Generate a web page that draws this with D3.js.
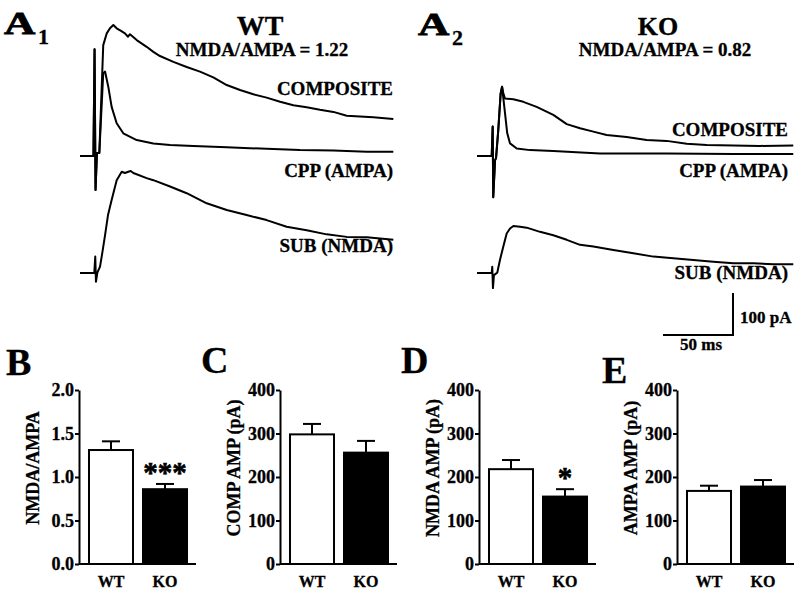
<!DOCTYPE html>
<html><head><meta charset="utf-8">
<script src="https://cdn.jsdelivr.net/npm/d3@7"></script>
<style>
body{margin:0;background:#fff}
svg{display:block}
text{font-family:"Liberation Serif","Times New Roman",serif;font-weight:bold;fill:#000;stroke:#000;stroke-width:0.3px}
</style>
</head><body>
<svg id="c" width="800" height="590"></svg>
<script>
// ---------- DATA ----------
const groups = ["WT", "KO"];
const ratioMean = [1.31, 0.86], ratioSem = [0.10, 0.06], ratioSig = ["", "***"];
const compMean = [298, 256],   compSem = [24, 27],   compSig = ["", ""];
const nmdaMean = [218, 155],   nmdaSem = [21, 17],   nmdaSig = ["", "*"];
const ampaMean = [168, 178],   ampaSem = [12, 15],   ampaSig = ["", ""];
const ratioTicks = [0, 0.5, 1.0, 1.5, 2.0];
const ampTicks = [0, 100, 200, 300, 400];

// traces: [time ms, current pA]
const wtComposite = [[0,0],[9.6,0],[10.4,254],[11.1,-81],[12.1,7],[13.8,7],[16.6,264],[19.1,292],[21.4,304],[23.8,312],[26.2,304],[29.3,298],[32.1,292],[34.3,284],[35.7,290],[40.5,276],[47.6,260],[52.4,248],[57.1,238],[66.7,224],[76.2,212],[85.7,201],[95.2,187],[104.8,169],[114.3,157],[123.8,147],[133.3,139],[142.9,129],[152.4,121],[161.9,116],[171.4,110],[181,105],[190.5,96],[200,94],[209.5,92],[223.8,88]];
const wtAmpa = [[0,0],[9.6,0],[10.4,254],[11.1,-81],[12.1,7],[13.8,7],[16.6,197],[17.9,201],[20.2,165],[22.6,117],[26.2,78],[30.9,54],[40.5,38],[52.4,30],[64.3,26],[81,24],[104.8,21],[133.3,17],[157.1,14],[181,13],[204.8,10],[223.8,10]];
const wtNmda = [[0,0],[10.2,0],[10.9,39],[11.4,-21],[12.4,1],[14.3,15],[15.7,43],[17.9,90],[20,138],[22.6,174],[26.2,221],[29.8,241],[32.1,238],[34.5,241],[36.2,243],[38.1,238],[47.6,226],[52.4,221],[64.3,206],[76.2,190],[90.5,166],[104.8,150],[119,138],[133.3,126],[147.6,110],[161.9,102],[176.2,92],[190.5,86],[204.8,85],[223.8,79]];
const koComposite = [[0,0],[10.5,0],[11.2,70],[11.6,-98],[12.9,-10],[13.6,-5],[15.2,62],[16.9,149],[17.9,165],[18.8,149],[20,137],[25.9,135],[33.1,129],[42.6,117],[54.5,98],[64.1,76],[73.6,66],[83.1,58],[92.6,50],[106.9,45],[121.2,38],[135.5,36],[149.8,29],[164.1,26],[183.1,25],[202.1,24],[225.9,25]];
const koAmpa = [[0,0],[10.5,0],[11.2,70],[11.6,-98],[12.9,-10],[13.6,-5],[15.2,62],[16.9,149],[17.9,165],[20,102],[21.6,54],[23.6,30],[28.4,18],[37.9,14],[54.5,12],[87.9,6],[135.5,6],[183.1,5],[225.9,5]];
const koNmda = [[0,0],[10.5,0],[10.9,15],[11.4,-36],[12.1,-5],[14.5,1],[16.4,31],[18.8,63],[21.2,94],[23.6,106],[26,112],[30.7,110],[35.5,108],[45,98],[54.5,90],[64.1,79],[73.6,67],[83.1,63],[97.4,55],[111.7,47],[126,39],[140.2,35],[154.5,31],[168.8,27],[183.1,23],[197.4,23],[211.7,21],[225.9,21]];
const scaleBarMs = 50, scaleBarPA = 100;

// ---------- DRAW ----------
const svg = d3.select("#c");
const F = '"Liberation Serif","Times New Roman",serif';

function tracePanel(x0, traces) {
  const xs = d3.scaleLinear().domain([0, 50]).range([x0, x0 + 70]);
  traces.forEach(t => {
    const ys = d3.scaleLinear().domain([0, 100]).range([t.base, t.base - 42]);
    const line = d3.line().x(d => xs(d[0])).y(d => ys(d[1]));
    svg.append("path").attr("d", line(t.data)).attr("fill", "none")
      .attr("stroke", "#000").attr("stroke-width", 2).attr("stroke-linejoin", "round");
  });
  return xs;
}
tracePanel(80, [{data: wtComposite, base: 156}, {data: wtAmpa, base: 156}, {data: wtNmda, base: 273}]);
const xsKO = tracePanel(477, [{data: koComposite, base: 156}, {data: koAmpa, base: 156}, {data: koNmda, base: 273}]);

function txt(x, y, s, size, anchor) {
  return svg.append("text").attr("x", x).attr("y", y).attr("font-size", size)
    .attr("text-anchor", anchor || "start").text(s);
}
function letterA(x, y, sub) {
  svg.append("text").attr("transform", `translate(${x},${y}) scale(1.4,1)`)
    .attr("font-size", 31).style("stroke-width", "0.8px").text("A");
  txt(x + 34, y + 10, sub, 22);
}
letterA(4, 34, "1");
letterA(418, 35, "2");
txt(260, 35, "WT", 28, "middle");
txt(262, 56, "NMDA/AMPA = 1.22", 19, "middle");
txt(658, 35, "KO", 26, "middle");
txt(665, 56, "NMDA/AMPA = 0.82", 19, "middle");
txt(393, 95, "COMPOSITE", 19, "end");
txt(393, 177, "CPP (AMPA)", 19, "end");
txt(393, 252, "SUB (NMDA)", 19, "end");
txt(788, 136, "COMPOSITE", 19, "end");
txt(788, 177, "CPP (AMPA)", 19, "end");
txt(788, 279, "SUB (NMDA)", 19, "end");

// scale bar
const sbx = 733, sby = 335;
const sbW = xsKO(scaleBarMs) - xsKO(0);
const sbH = d3.scaleLinear().domain([0, 100]).range([0, 42])(scaleBarPA);
svg.append("path").attr("d", `M${sbx - sbW},${sby}H${sbx}V${sby - sbH}`)
  .attr("fill", "none").attr("stroke", "#000").attr("stroke-width", 2);
txt(740, 323, "100 pA", 17);
txt(701, 350, "50 ms", 17, "middle");

// bar panels
const panels = [
  {x: 79, letter: "B", lx: 6, ly: 375, mean: ratioMean, sem: ratioSem, sig: ratioSig, ticks: ratioTicks, fmt: d3.format(".1f"), label: "NMDA/AMPA"},
  {x: 280, letter: "C", lx: 201, ly: 373, mean: compMean, sem: compSem, sig: compSig, ticks: ampTicks, fmt: d3.format("d"), label: "COMP AMP (pA)"},
  {x: 479, letter: "D", lx: 401, ly: 373, mean: nmdaMean, sem: nmdaSem, sig: nmdaSig, ticks: ampTicks, fmt: d3.format("d"), label: "NMDA AMP (pA)"},
  {x: 677, letter: "E", lx: 602, ly: 383, mean: ampaMean, sem: ampaSem, sig: ampaSig, ticks: ampTicks, fmt: d3.format("d"), label: "AMPA AMP (pA)"}
];
panels.forEach(p => {
  const y = d3.scaleLinear().domain([0, p.ticks[p.ticks.length - 1]]).range([564, 390]);
  const x = d3.scaleBand().domain(groups).range([p.x, p.x + 118]).paddingInner(0.185).paddingOuter(0.185);
  const g = svg.append("g");
  groups.forEach((k, i) => {
    const cx = x(k) + x.bandwidth() / 2;
    const top = y(p.mean[i] + p.sem[i]);
    g.append("line").attr("x1", cx).attr("x2", cx).attr("y1", y(p.mean[i])).attr("y2", top)
      .attr("stroke", "#000").attr("stroke-width", 2);
    g.append("line").attr("x1", cx - 9).attr("x2", cx + 9).attr("y1", top).attr("y2", top)
      .attr("stroke", "#000").attr("stroke-width", 2);
    g.append("rect").attr("x", x(k)).attr("y", y(p.mean[i])).attr("width", x.bandwidth())
      .attr("height", y(0) - y(p.mean[i])).attr("fill", i === 0 ? "#fff" : "#000")
      .attr("stroke", "#000").attr("stroke-width", 2);
    if (p.sig[i]) {
      g.append("text").attr("x", cx).attr("y", top - 2)
        .attr("text-anchor", "middle").attr("font-size", 29).style("stroke-width", "0.6px").text(p.sig[i]);
    }
  });
  const ya = g.append("g").attr("transform", `translate(${p.x},0)`)
    .call(d3.axisLeft(y).tickValues(p.ticks).tickFormat(p.fmt).tickSize(4).tickSizeOuter(0).tickPadding(1));
  ya.selectAll("path,line").attr("stroke-width", 2);
  ya.selectAll("text").attr("font-size", 18).attr("font-family", F).attr("font-weight", "bold").attr("fill", "#000");
  const xa = g.append("g").attr("transform", `translate(0,564)`)
    .call(d3.axisBottom(x).tickSize(0).tickSizeOuter(0).tickPadding(12));
  xa.select("path").attr("stroke-width", 2).attr("d", `M${p.x},0H${p.x + 117}`);
  xa.selectAll("text").attr("font-size", 16).attr("font-family", F).attr("font-weight", "bold").attr("fill", "#000");
  svg.append("text").attr("transform", `translate(${p.x - 40},468) rotate(-90)`)
    .attr("text-anchor", "middle").attr("font-size", 18).text(p.label);
  txt(p.lx, p.ly, p.letter, 38);
});
</script>
</body></html>
